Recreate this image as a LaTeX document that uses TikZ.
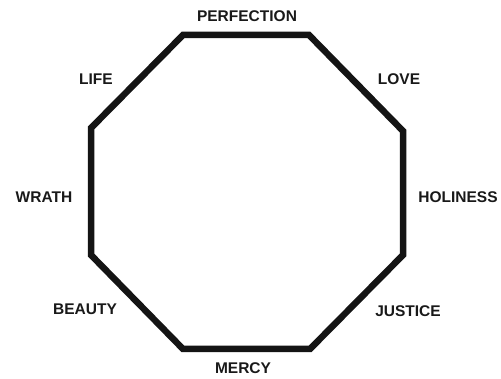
\documentclass[tikz,border=0pt]{standalone}
\usepackage{fontspec}
\setmainfont{Liberation Sans}
\begin{document}
\begin{tikzpicture}[x=1pt,y=-1pt,
  lbl/.style={font=\fontsize{15.5}{18}\selectfont\bfseries, inner sep=0pt, text=black!90},
  edge/.style={line width=6.5pt, line join=miter, draw=black!92}]
\useasboundingbox (0,0) rectangle (501,379);
\fill[white] (0,0) rectangle (501,379);
\coordinate (c1) at (183,35);
\coordinate (c2) at (309,35);
\coordinate (c3) at (403,131);
\coordinate (c4) at (403,255);
\coordinate (c5) at (310,349);
\coordinate (c6) at (183,349);
\coordinate (c7) at (91,255);
\coordinate (c8) at (91,128);
\draw[edge] (c1) -- (c2) -- (c3) -- (c4) -- (c5) -- (c6) -- (c7) -- (c8) -- cycle;
\node[lbl] (perfection) at (247,16) {PERFECTION};
\node[lbl] (love) at (399,79) {LOVE};
\node[lbl] (holiness) at (458,197) {HOLINESS};
\node[lbl] (justice) at (408,311) {JUSTICE};
\node[lbl] (mercy) at (243,368) {MERCY};
\node[lbl] (beauty) at (85,309) {BEAUTY};
\node[lbl] (wrath) at (44,197) {WRATH};
\node[lbl] (life) at (96,79) {LIFE};
\end{tikzpicture}
\end{document}
